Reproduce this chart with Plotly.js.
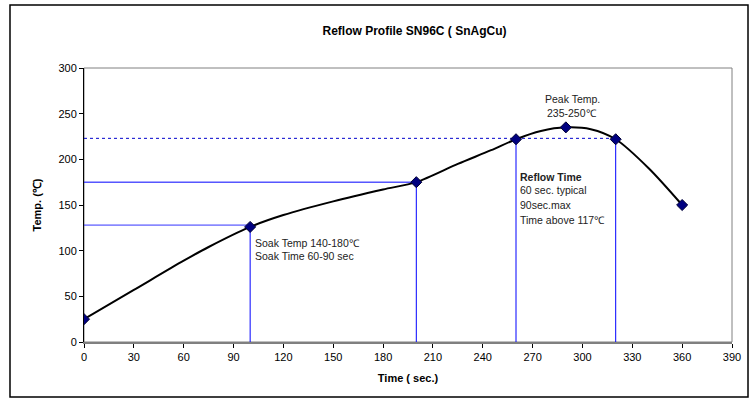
<!DOCTYPE html>
<html>
<head>
<meta charset="utf-8">
<script src="https://cdn.plot.ly/plotly-3.0.1.min.js"></script>
<style>html,body{margin:0;padding:0;background:#fff;}#chart{width:755px;height:407px;}</style>
</head>
<body>
<div id="chart"></div>
<script>
// Smoothed profile curve
const curveTime = [0, 30, 60, 75, 100, 120, 150, 180, 200, 225, 245, 260, 275, 290, 305, 320, 340, 360];
const curveTemp = [25, 57, 89, 104, 126, 139, 154, 167, 175, 195, 210, 222, 231, 235, 233, 222, 190, 150];
// Marked points
const markTime = [0, 100, 200, 260, 290, 320, 360];
const markTemp = [25, 126, 175, 222, 235, 222, 150];
// Reference lines
const soakTempLevel = 128;
const soakEndLevel = 175;
const reflowLevel = 223;
const vLineTimes = [100, 200, 260, 320];
const vLineTops = [128, 175, 222, 222];
const xTicks = [0, 30, 60, 90, 120, 150, 180, 210, 240, 270, 300, 330, 360, 390];
const yTicks = [0, 50, 100, 150, 200, 250, 300];

const FONT = 'Liberation Sans, Arial, sans-serif';
const BLUE = '#0000ff';

const traces = [];
// horizontal blue lines
traces.push({x: [0, 100], y: [soakTempLevel, soakTempLevel], mode: 'lines', line: {color: '#3333ff', width: 1}, hoverinfo: 'skip'});
traces.push({x: [0, 200], y: [soakEndLevel, soakEndLevel], mode: 'lines', line: {color: BLUE, width: 1}, hoverinfo: 'skip'});
traces.push({x: [0, 320], y: [reflowLevel, reflowLevel], mode: 'lines', line: {color: '#0000cc', width: 1, dash: '3px,3px'}, hoverinfo: 'skip'});
// vertical blue lines
vLineTimes.forEach((t, i) => {
  traces.push({x: [t, t], y: [0, vLineTops[i]], mode: 'lines', line: {color: BLUE, width: 1}, hoverinfo: 'skip'});
});
// curve
traces.push({x: curveTime, y: curveTemp, mode: 'lines', line: {color: '#000', width: 2, shape: 'spline', smoothing: 0.8}});
// markers
traces.push({x: markTime, y: markTemp, mode: 'markers', marker: {symbol: 'diamond', size: 8.5, color: '#000080', line: {color: '#000033', width: 1}}});

const annFont = {family: FONT, size: 10.5, color: '#222'};
const annotations = [
  {x: 102, y: 108, text: 'Soak Temp 140-180℃', xanchor: 'left', yanchor: 'middle', showarrow: false, font: annFont},
  {x: 102, y: 94, text: 'Soak Time 60-90 sec', xanchor: 'left', yanchor: 'middle', showarrow: false, font: annFont},
  {x: 294, y: 266, text: 'Peak Temp.', xanchor: 'center', yanchor: 'middle', showarrow: false, font: annFont},
  {x: 294, y: 251, text: '235-250℃', xanchor: 'center', yanchor: 'middle', showarrow: false, font: annFont},
  {x: 261, y: 181, text: '<b>Reflow Time</b>', xanchor: 'left', yanchor: 'middle', showarrow: false, font: annFont},
  {x: 261, y: 166, text: '60 sec. typical', xanchor: 'left', yanchor: 'middle', showarrow: false, font: annFont},
  {x: 261, y: 150, text: '90sec.max', xanchor: 'left', yanchor: 'middle', showarrow: false, font: annFont},
  {x: 261, y: 134, text: 'Time above 117℃', xanchor: 'left', yanchor: 'middle', showarrow: false, font: annFont}
];

const layout = {
  width: 755, height: 407,
  margin: {l: 84, r: 23, t: 68, b: 65},
  paper_bgcolor: '#fff', plot_bgcolor: '#fff',
  showlegend: false,
  font: {family: FONT, size: 11, color: '#000'},
  title: {text: '<b>Reflow Profile SN96C ( SnAgCu)</b>', font: {family: FONT, size: 12, color: '#000'}, x: 0.51, xref: 'paper', y: 0.925, yref: 'container', yanchor: 'middle'},
  xaxis: {
    range: [0, 390], tickvals: xTicks, ticktext: xTicks.map(String),
    ticks: 'outside', ticklen: 4, tickcolor: '#000', showgrid: false, zeroline: false,
    showline: true, linecolor: '#808080', linewidth: 2,
    tickfont: {family: FONT, size: 11, color: '#000'},
    title: {text: '<b>Time ( sec.)</b>', font: {family: FONT, size: 11, color: '#000'}, standoff: 12}
  },
  yaxis: {
    range: [0, 300], tickvals: yTicks, ticktext: yTicks.map(String),
    ticks: 'outside', ticklen: 4, tickcolor: '#000', showgrid: false, zeroline: false,
    showline: true, linecolor: '#000', linewidth: 1,
    tickfont: {family: FONT, size: 11, color: '#000'},
    title: {text: '<b>Temp. (℃)</b>', font: {family: FONT, size: 11, color: '#000'}, standoff: 14}
  },
  shapes: [
    {type: 'rect', xref: 'paper', yref: 'paper', x0: 0, x1: 1, y0: 0, y1: 1, line: {color: '#808080', width: 1}, layer: 'below'},
    {type: 'rect', xref: 'paper', yref: 'paper', x0: -0.1142, x1: 1.0247, y0: -0.2007, y1: 1.2299, line: {color: '#000', width: 1.5}}
  ],
  annotations: annotations
};

Plotly.newPlot('chart', traces, layout, {displayModeBar: false, staticPlot: true});
</script>
</body>
</html>
